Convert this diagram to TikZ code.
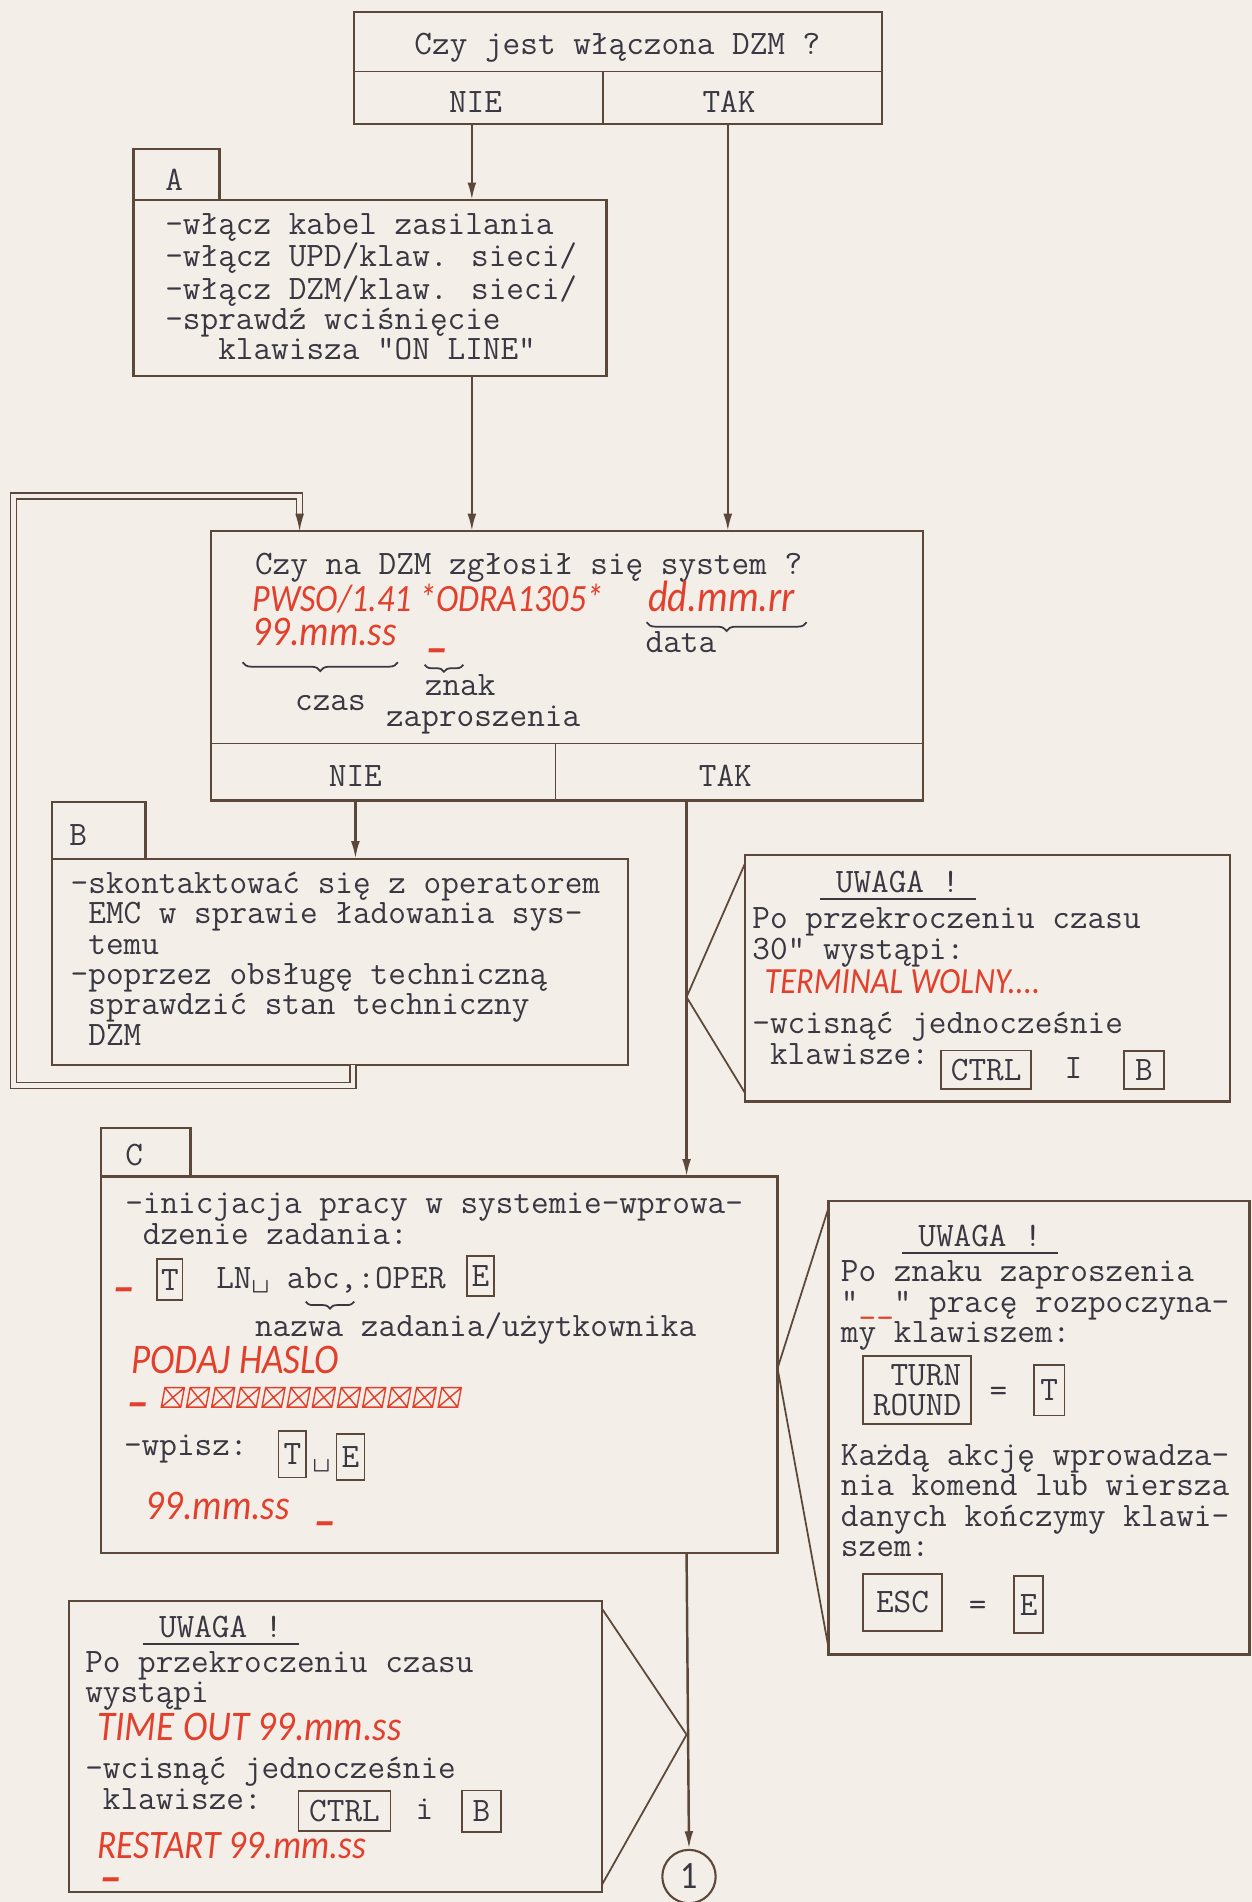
\documentclass[tikz,border=0pt]{standalone}
\usepackage{fontspec}
\newfontfamily\handfont[FakeStretch=0.88]{Carlito}
\usepackage{tikz}
\usetikzlibrary{arrows.meta}
\usetikzlibrary{decorations.pathreplacing}
\usetikzlibrary{positioning}

\definecolor{paper}{RGB}{243,239,232}
\definecolor{ink}{RGB}{58,55,66}
\definecolor{pen}{RGB}{92,72,58}
\definecolor{redink}{RGB}{226,64,44}

\newcommand\pu{0.02426cm}
\newcommand\tw{\fontsize{19.5}{17.3}\selectfont\ttfamily}
\newcommand\hw[1]{\fontsize{#1}{#1}\selectfont\handfont\itshape}

\tikzset{
  box/.style={draw=pen, line width=1.3pt, anchor=north west, inner sep=0pt, outer sep=0pt},
  tab/.style={box, anchor=south west},
  txt/.style={font=\tw, text=ink, inner sep=0pt, align=left, anchor=north west},
  ln/.style={font=\tw, text=ink, inner sep=0pt, anchor=base west},
  hand/.style={font=\hw{22}, text=redink, inner sep=0pt, anchor=base west},
  prompt/.style={hand, font=\hw{30}\bfseries},
  key/.style={draw=pen, line width=1pt, font=\tw, text=ink, inner sep=0pt},
  flow/.style={draw=pen, line width=1.4pt, -{Latex[length=10pt,width=5pt]}},
  lead/.style={draw=pen, line width=1pt},
  dbl/.style={draw=pen, line width=0.8pt, double=paper, double distance=2.6pt},
  curly/.style={draw=ink, line width=1pt, decorate, decoration={brace, mirror, amplitude=5pt}},
  uline/.style={draw=ink, line width=1pt}
}

\begin{document}
\begin{tikzpicture}[x=\pu, y=-\pu]
    \fill[paper] (0,0) rectangle (1032,1568);
    \useasboundingbox (0,0) rectangle (1032,1568);

    \coordinate (nie1) at (389,0);
    \coordinate (tak1) at (600,0);
    \coordinate (nie2) at (293,0);
    \coordinate (tak2) at (566,0);

    % Czy jest wlaczona DZM ?
    \node[box, minimum width=435*\pu, minimum height=92*\pu] (q1) at (292,10) {};
    \draw[lead] (q1.west |- 0,59) -- (q1.east |- 0,59);
    \draw[lead] (497,59) -- (q1.south -| 497,0);
    \node[ln, anchor=base] (q1t) at (509,45) {Czy jest włączona DZM ?};
    \node[ln, anchor=base] (q1n) at (392,93) {NIE};
    \node[ln, anchor=base] (q1y) at (601,93) {TAK};

    % A
    \node[tab, minimum width=71*\pu, minimum height=42*\pu] (tabA) at (110,165) {};
    \node[ln] (la) at (136,157) {A};
    \node[box, minimum width=390*\pu, minimum height=145*\pu] (a) at (110,165) {};
    \node[txt] (at) at (136,175.5) {-włącz kabel zasilania\\-włącz UPD/klaw. sieci/\\-włącz DZM/klaw. sieci/\\-sprawdź wciśnięcie\\~~~klawisza "ON LINE"};

    % Czy na DZM zglosil sie system ?
    \node[box, minimum width=587*\pu, minimum height=222*\pu] (q2) at (174,438) {};
    \draw[lead] (q2.west |- 0,613) -- (q2.east |- 0,613);
    \draw[lead] (458,613) -- (q2.south -| 458,0);
    \node[ln] (q2t) at (210,474) {Czy na DZM zgłosił się system ?};
    \node[hand] (sys) at (208,504) {PWSO/1.41 *ODRA1305*};
    \node[hand, font=\hw{25}] (date) at (534,504) {dd.mm.rr};
    \draw[curly] (533,513) -- (665,513);
    \node[ln] (datat) at (532,538) {data};
    \node[hand, font=\hw{24}] (time) at (208,532) {99.mm.ss};
    \draw[curly] (200,546) -- (328,546);
    \node[ln] (czas) at (243,586) {czas};
    \node[prompt] (pr0) at (352,532) {\_};
    \draw[curly, decoration={amplitude=4pt}] (350,548) -- (382,548);
    \node[ln] (znak) at (350,573) {znak};
    \node[ln] (zapr) at (318,599) {zaproszenia};
    \node[ln, anchor=base] (q2n) at (293,648) {NIE};
    \node[ln, anchor=base] (q2y) at (598,648) {TAK};

    \draw[flow] (q1.south -| nie1) -- (a.north -| nie1);
    \draw[flow] (a.south -| nie1) -- (q2.north -| nie1);
    \draw[flow] (q1.south -| tak1) -- (q2.north -| tak1);

    % B
    \node[tab, minimum width=77*\pu, minimum height=47*\pu] (tabB) at (43,708) {};
    \node[ln] (lb) at (57,697) {B};
    \node[box, minimum width=475*\pu, minimum height=170*\pu] (b) at (43,708) {};
    \node[txt] (bt) at (58,718.5) {-skontaktować się z operatorem\\~EMC w sprawie ładowania sys-\\~temu\\-poprzez obsługę techniczną\\~sprawdzić stan techniczny\\~DZM};
    \draw[flow] (q2.south -| nie2) -- (b.north -| nie2);
    \draw[dbl, -{Latex[length=10pt,width=5pt]}] (b.south -| 291,0) -- (291,895) -- (11,895) -- (11,409) -- (247,409) -- (q2.north -| 247,0);

    % UWAGA 1
    \node[box, minimum width=400*\pu, minimum height=203*\pu] (w1) at (614,705) {};
    \coordinate (tip1) at (tak2 |- 0,822);
    \draw[lead] ([yshift=-5pt]w1.north west) -- (tip1) -- ([yshift=5pt]w1.south west);
    \node[ln, anchor=base] (u1) at (740,736) {UWAGA !};
    \draw[uline] ([xshift=-9pt,yshift=-3.5pt]u1.base west) -- ([xshift=9pt,yshift=-3.5pt]u1.base east);
    \node[txt] (w1t) at (620,748) {Po przekroczeniu czasu\\30" wystąpi:};
    \node[hand, font=\hw{21}] (term) at (630,819) {TERMINAL WOLNY....};
    \node[txt] (w1u) at (620,834.5) {-wcisnąć jednocześnie\\~klawisze:};
    \node[key, minimum width=74*\pu, minimum height=32*\pu] (ctrl1) at (813,882) {CTRL};
    \node[ln, anchor=base] (i1) at (885,889) {I};
    \node[key, minimum width=33*\pu, minimum height=31*\pu] (b1) at (943,882) {B};

    % C
    \node[tab, minimum width=74*\pu, minimum height=40*\pu] (tabC) at (83,970) {};
    \node[ln] (lc) at (103,961) {C};
    \node[box, minimum width=558*\pu, minimum height=310*\pu] (c) at (83,970) {};
    \draw[flow] (q2.south -| tak2) -- (c.north -| tak2);
    \node[txt] (ct) at (103,983.5) {-inicjacja pracy w systemie-wprowa-\\~dzenie zadania:};
    \node[prompt] (pr1) at (94,1059) {\_};
    \node[key, minimum width=21*\pu, minimum height=34*\pu] (t1) at (140,1055) {T};
    \node[ln] (lnop) at (178,1062) {LN\textvisiblespace{} abc,:OPER};
    \node[key, minimum width=22*\pu, minimum height=33*\pu] (e1) at (396,1052) {E};
    \draw[curly, decoration={amplitude=4pt}] (252,1073) -- (292,1073);
    \node[ln] (nazwa) at (210,1102) {nazwa zadania/użytkownika};
    \node[hand, font=\hw{24}] (haslo) at (108,1132) {PODAJ HASLO};
    \node[prompt] (pr2) at (106,1154) {\_};
    \foreach \i in {0,...,11}
        \draw[redink, line width=0.8pt] (133+20.75*\i,1160) -- ++(16,0) -- ++(3,-16) -- ++(-16,0) -- cycle
            (133+20.75*\i,1160) -- ++(19,-16) (136+20.75*\i,1144) -- ++(13,16);
    \node[ln] (wp) at (102,1200) {-wpisz:};
    \node[key, minimum width=23*\pu, minimum height=38*\pu] (t2) at (241,1199) {T};
    \node[ln, anchor=base] (sp) at (265,1210) {\textvisiblespace};
    \node[key, minimum width=23*\pu, minimum height=38*\pu] (e2) at (289,1201) {E};
    \node[hand, font=\hw{24}] (time2) at (120,1253) {99.mm.ss};
    \node[prompt] (pr3) at (260,1252) {\_};

    % UWAGA 2
    \node[box, minimum width=347*\pu, minimum height=374*\pu] (w2) at (683,990) {};
    \coordinate (tip2) at (c.east |- 0,1128);
    \draw[lead] ([yshift=-4pt]w2.north west) -- (tip2) -- ([yshift=4pt]w2.south west);
    \node[ln, anchor=base] (u2) at (808,1028) {UWAGA !};
    \draw[uline] ([xshift=-9pt,yshift=-3.5pt]u2.base west) -- ([xshift=9pt,yshift=-3.5pt]u2.base east);
    \node[txt] (w2t) at (693,1039) {Po znaku zaproszenia\\"\textcolor{redink}{\_\_}" pracę rozpoczyna-\\my klawiszem:};
    \node[key, align=left, minimum width=89*\pu, minimum height=56*\pu] (turn) at (756,1146) {~TURN\\ROUND};
    \node[ln, anchor=base] (eq1) at (823,1155) {=};
    \node[key, minimum width=25*\pu, minimum height=42*\pu] (t3) at (865,1146) {T};
    \node[txt] (w2u) at (693,1190.5) {Każdą akcję wprowadza-\\nia komend lub wiersza\\danych kończymy klawi-\\szem:};
    \node[key, minimum width=65*\pu, minimum height=47*\pu] (esc) at (744,1321) {ESC};
    \node[ln, anchor=base] (eq2) at (806,1332) {=};
    \node[key, minimum width=24*\pu, minimum height=47*\pu] (e3) at (848,1323) {E};

    % UWAGA 3
    \node[box, minimum width=439*\pu, minimum height=240*\pu] (w3) at (57,1320) {};
    \coordinate (tip3) at (tak2 |- 0,1430);
    \draw[lead] ([yshift=-4pt]w3.north east) -- (tip3) -- ([yshift=4pt]w3.south east);
    \node[ln, anchor=base] (u3) at (182,1350) {UWAGA !};
    \draw[uline] ([xshift=-9pt,yshift=-3.5pt]u3.base west) -- ([xshift=9pt,yshift=-3.5pt]u3.base east);
    \node[txt] (w3t) at (70,1361) {Po przekroczeniu czasu\\wystąpi};
    \node[hand, font=\hw{24}] (tout) at (80,1435) {TIME OUT 99.mm.ss};
    \node[txt] (w3u) at (70,1448.5) {-wcisnąć jednocześnie\\~klawisze:};
    \node[key, minimum width=76*\pu, minimum height=33*\pu] (ctrl2) at (284,1493) {CTRL};
    \node[ln, anchor=base] (i2) at (350,1500) {i};
    \node[key, minimum width=32*\pu, minimum height=34*\pu] (b2) at (397,1493) {B};
    \node[hand, font=\hw{23}] (rst) at (80,1532) {RESTART 99.mm.ss};
    \node[prompt] (pr4) at (83,1545) {\_};

    \node[draw=pen, line width=1.2pt, circle, minimum size=44*\pu, inner sep=0pt, font=\fontsize{22}{22}\selectfont\handfont, text=ink] (one) at (568,1547) {1};
    \draw[flow] (c.south -| tak2) -- (one.north);
\end{tikzpicture}
\end{document}
